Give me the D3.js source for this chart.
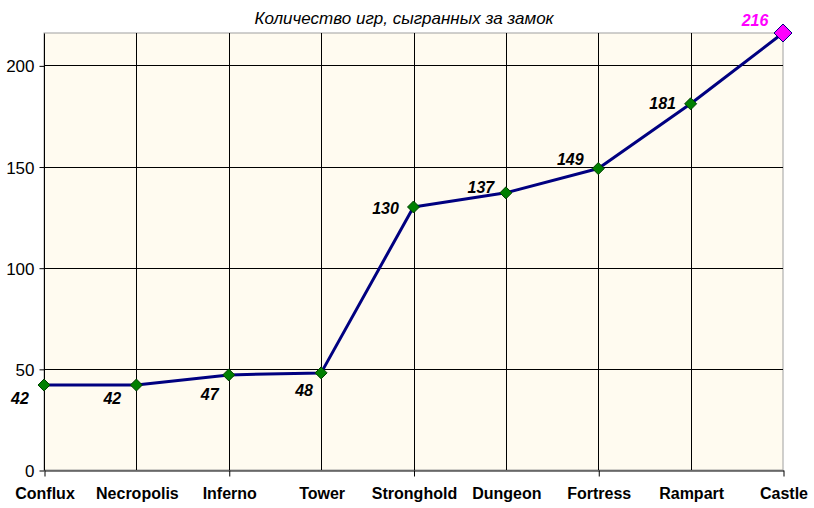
<!DOCTYPE html>
<html><head><meta charset="utf-8">
<script src="https://cdn.jsdelivr.net/npm/d3@7"></script>
<style>body{margin:0;background:#fff}svg{display:block}text{font-family:Arial,"Liberation Sans",sans-serif}</style>
</head><body>
<svg id="c" width="814" height="508"></svg>
<script>
const title = "Количество игр, сыгранных за замок";
const categories = ["Conflux","Necropolis","Inferno","Tower","Stronghold","Dungeon","Fortress","Rampart","Castle"];
const values = [42,42,47,48,130,137,149,181,216];
const yTicks = [0,50,100,150,200];
const yMax = 216;
// label offsets (style, not data)
const labelOffsets = [[-24,13],[-24,13],[-19,19],[-17,17],[-28,1],[-25,-6],[-28,-9],[-28,-1],[-28,-13]];

const svg = d3.select("#c");
const m = {l:44, r:31, t:33, b:38};
const W = 814, H = 508;
const x = d3.scalePoint().domain(categories).range([m.l, W - m.r]);
const y = d3.scaleLinear().domain([0, yMax]).range([H - m.b, m.t]);

// plot background
svg.append("rect").attr("x", m.l).attr("y", m.t).attr("width", W-m.r-m.l).attr("height", H-m.b-m.t)
  .attr("fill", "#FFFBF0").attr("stroke", "#A0A0A0").attr("stroke-width", 1);

// grid lines
svg.append("g").selectAll("line").data(yTicks.filter(d=>d>0)).join("line")
  .attr("x1", m.l).attr("x2", W-m.r).attr("y1", d=>Math.round(y(d))+0.5).attr("y2", d=>Math.round(y(d))+0.5)
  .attr("stroke", "#000").attr("stroke-width", 1);
svg.append("g").selectAll("line").data(categories.slice(1, -1)).join("line")
  .attr("x1", d=>Math.round(x(d))+0.5).attr("x2", d=>Math.round(x(d))+0.5).attr("y1", m.t).attr("y2", H-m.b)
  .attr("stroke", "#000").attr("stroke-width", 1);

// y axis
const yAxis = svg.append("g").attr("transform", `translate(${m.l+0.5},0.5)`)
  .call(d3.axisLeft(y).tickValues(yTicks).tickSize(5).tickSizeOuter(0).tickPadding(5));
yAxis.select(".domain").attr("stroke", "#000").attr("d", `M0,${Math.round(y(yMax))}V${Math.round(y(0))}`);
yAxis.selectAll("text").attr("font-size", "17px").attr("font-family", "Arial,'Liberation Sans',sans-serif").attr("fill", "#000").attr("dy", "0.36em");

// x axis
const xAxis = svg.append("g").attr("transform", `translate(0.5,${Math.round(y(0))+0.5})`)
  .call(d3.axisBottom(x).tickSize(0).tickPadding(17));
xAxis.select(".domain").attr("stroke", "#000");
xAxis.selectAll("text").attr("font-size", "16px").attr("font-weight", "bold").attr("font-family", "Arial,'Liberation Sans',sans-serif").attr("fill", "#000");
xAxis.selectAll(".tick").filter((d,i)=>i%2===0).append("line").attr("y2", 6).attr("stroke", "#000");

// line
const pts = categories.map((c,i)=>({c, v:values[i], i}));
svg.append("path").datum(pts)
  .attr("d", d3.line().x(d=>x(d.c)).y(d=>y(d.v)))
  .attr("fill", "none").attr("stroke", "#000080").attr("stroke-width", 3).attr("stroke-linejoin", "round");

// markers
const last = pts.length - 1;
svg.append("g").selectAll("path").data(pts).join("path")
  .attr("transform", d=>`translate(${x(d.c)},${y(d.v)})`)
  .attr("d", d=>{ const s = d.i===last ? 9 : 6; return `M0,${-s}L${s},0L0,${s}L${-s},0Z`; })
  .attr("fill", d=>d.i===last ? "#FF00FF" : "#008000")
  .attr("stroke", d=>d.i===last ? "#000080" : "#004000").attr("stroke-width", 1);

// labels
svg.append("g").selectAll("text").data(pts).join("text")
  .attr("x", d=>x(d.c)+labelOffsets[d.i][0]).attr("y", d=>y(d.v)+labelOffsets[d.i][1])
  .attr("text-anchor", "middle").attr("dy", "0.36em")
  .attr("font-size", "16px").attr("font-weight", "bold").attr("font-style", "italic")
  .attr("fill", d=>d.i===last ? "#FF00FF" : "#000")
  .text(d=>d.v);

// title
svg.append("text").attr("x", 404).attr("y", 24).attr("text-anchor", "middle")
  .attr("font-size", "17px").attr("font-style", "italic").attr("fill", "#000").text(title);
</script>
</body></html>
